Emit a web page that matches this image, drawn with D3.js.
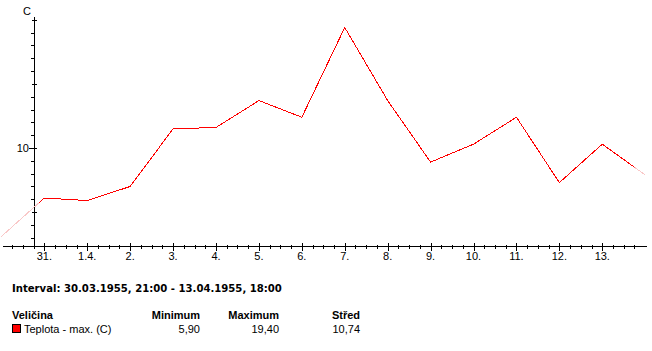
<!DOCTYPE html>
<html>
<head>
<meta charset="utf-8">
<script src="https://cdn.jsdelivr.net/npm/d3@7"></script>
<style>
  body { margin: 0; background: #fff; }
  svg text { font-family: "Liberation Sans", Arial, sans-serif; font-size: 11px; fill: #000; }
  .bold { font-weight: bold; }
  .wide { font-family: "DejaVu Sans", sans-serif; font-size: 10.1px; }
</style>
</head>
<body>
<script>
// denni maxima teplot (C), body o pulnoci
const dates  = ['1955-03-30', '1955-03-31', '1955-04-01', '1955-04-02', '1955-04-03', '1955-04-04',
                '1955-04-05', '1955-04-06', '1955-04-07', '1955-04-08', '1955-04-09', '1955-04-10',
                '1955-04-11', '1955-04-12', '1955-04-13', '1955-04-14'];
const values = [3.1, 6.1, 5.9, 7.0, 11.5, 11.6, 13.7, 12.4, 19.4, 13.7, 8.9, 10.3, 12.4, 7.3, 10.3, 7.9];
const dayLabels = ['31.', '1.4.', '2.', '3.', '4.', '5.', '6.', '7.', '8.', '9.', '10.', '11.', '12.', '13.'];
const intervalFrom = '1955-03-30T21:00';
const intervalTo   = '1955-04-13T18:00';
const statHeaders  = ['Veličina', 'Minimum', 'Maximum', 'Střed'];
const statRow      = ['Teplota - max. (C)', '5,90', '19,40', '10,74'];

const width  = 652;
const height = 351;
const parse  = d3.timeParse('%Y-%m-%d');
const parseT = d3.timeParse('%Y-%m-%dT%H:%M');
const data   = dates.map((d, i) => ({date: parse(d), value: values[i]}));
const t0 = parseT(intervalFrom);
const t1 = parseT(intervalTo);

const svg = d3.select('body').append('svg')
    .attr('width', width)
    .attr('height', height);

const x = d3.scaleTime()
    .domain([parse('1955-03-30'), parse('1955-04-14')])
    .range([1.4, 645.2]);
const y = d3.scaleLinear()
    .domain([2.356, 20.22])
    .range([246, 17]);
const axisX = 34;
const axisY = 246;

// OSA Y
svg.append('line')
    .attr('x1', axisX + 0.5).attr('x2', axisX + 0.5)
    .attr('y1', y.range()[1]).attr('y2', axisY)
    .attr('stroke', '#000').attr('shape-rendering', 'crispEdges');

const yTicks = d3.range(3, 21);
svg.selectAll('.ytick').data(yTicks).enter().append('line')
    .attr('class', 'ytick')
    .attr('x1', d => d === 10 ? axisX - 5 : (d % 5 === 0 ? axisX - 2 : axisX - 3))
    .attr('x2', d => d % 5 === 0 ? axisX + 3 : axisX)
    .attr('y1', d => Math.round(y(d)) + 0.5)
    .attr('y2', d => Math.round(y(d)) + 0.5)
    .attr('stroke', '#000').attr('shape-rendering', 'crispEdges');

svg.append('text')
    .attr('x', 29).attr('y', Math.round(y(10)) + 4)
    .attr('text-anchor', 'end')
    .text('10');
svg.append('text')
    .attr('x', 23).attr('y', 15)
    .text('C');

// OSA X
svg.append('line')
    .attr('x1', 3).attr('x2', 647)
    .attr('y1', axisY + 0.5).attr('y2', axisY + 0.5)
    .attr('stroke', '#000').attr('shape-rendering', 'crispEdges');

const minorTicks = d3.timeHour.every(6).range(x.domain()[0], x.domain()[1]);
svg.selectAll('.xminor').data(minorTicks.filter(d => d.getHours() !== 0)).enter().append('line')
    .attr('class', 'xminor')
    .attr('x1', d => Math.round(x(d)) + 0.5).attr('x2', d => Math.round(x(d)) + 0.5)
    .attr('y1', axisY - 1).attr('y2', axisY + 3)
    .attr('stroke', '#000').attr('shape-rendering', 'crispEdges');

const dayTicks = d3.timeDay.range(parse('1955-03-31'), parse('1955-04-14'));
svg.selectAll('.xmajor').data(dayTicks).enter().append('line')
    .attr('class', 'xmajor')
    .attr('x1', d => Math.round(x(d)) + 0.5).attr('x2', d => Math.round(x(d)) + 0.5)
    .attr('y1', axisY - 3).attr('y2', axisY + 5)
    .attr('stroke', '#000').attr('shape-rendering', 'crispEdges');

svg.selectAll('.xlabel').data(dayTicks).enter().append('text')
    .attr('class', 'xlabel')
    .attr('x', d => x(d))
    .attr('y', 260)
    .attr('text-anchor', 'middle')
    .text((d, i) => dayLabels[i]);

// KRIVKA (mimo interval svetle)
const line = d3.line()
    .x(d => x(d.date))
    .y(d => y(d.value));

svg.append('defs').append('clipPath').attr('id', 'interval')
  .append('rect')
    .attr('x', x(t0)).attr('y', 0)
    .attr('width', x(t1) - x(t0)).attr('height', axisY);

svg.append('path')
    .datum(data)
    .attr('d', line)
    .attr('fill', 'none')
    .attr('stroke', '#f9c8c8')
    .attr('shape-rendering', 'crispEdges');

svg.append('path')
    .datum(data)
    .attr('d', line)
    .attr('clip-path', 'url(#interval)')
    .attr('fill', 'none')
    .attr('stroke', '#ff0000')
    .attr('shape-rendering', 'crispEdges');

// STATISTIKA
svg.append('text')
    .attr('class', 'bold wide')
    .attr('x', 12).attr('y', 292)
    .text('Interval: 30.03.1955, 21:00 - 13.04.1955, 18:00');

const colRight = [null, 200, 279, 360];
statHeaders.forEach((h, i) => {
  svg.append('text')
      .attr('class', 'bold')
      .attr('x', i === 0 ? 12 : colRight[i])
      .attr('y', 319)
      .attr('text-anchor', i === 0 ? 'start' : 'end')
      .text(h);
});

svg.append('rect')
    .attr('x', 12.5).attr('y', 324.5)
    .attr('width', 8).attr('height', 8)
    .attr('fill', '#ff0000')
    .attr('stroke', '#000');

statRow.forEach((v, i) => {
  svg.append('text')
      .attr('x', i === 0 ? 24 : colRight[i])
      .attr('y', 333)
      .attr('text-anchor', i === 0 ? 'start' : 'end')
      .text(v);
});
</script>
</body>
</html>
